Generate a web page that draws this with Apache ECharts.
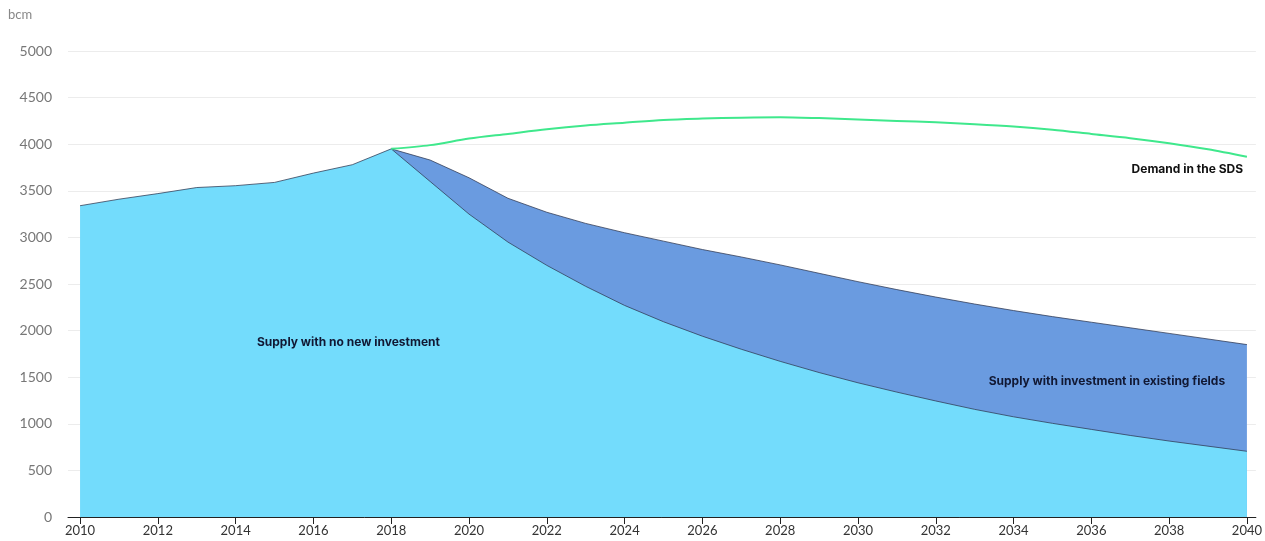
<!DOCTYPE html>
<html>
<head>
<meta charset="utf-8">
<script src="https://cdn.jsdelivr.net/npm/echarts@6/dist/echarts.min.js"></script>
<style>
html,body{margin:0;padding:0;background:#fff;}
#chart{width:1265px;height:541px;}
</style>
</head>
<body>
<div id="chart"></div>
<script>
// Data (bcm)
const years = [2010,2011,2012,2013,2014,2015,2016,2017,2018,2019,2020,2021,2022,2023,2024,2025,2026,2027,2028,2029,2030,2031,2032,2033,2034,2035,2036,2037,2038,2039,2040];
const supplyNoInvestment = [3340,3410,3470,3535,3555,3590,3690,3780,3950,3600,3250,2950,2700,2475,2270,2095,1940,1800,1670,1550,1440,1340,1245,1155,1075,1005,940,875,815,760,705];
const supplyExistingFields = [null,null,null,null,null,null,null,null,3950,3830,3640,3420,3270,3150,3050,2960,2870,2790,2705,2615,2525,2440,2360,2285,2215,2150,2090,2030,1970,1910,1850];
const demandSDS = [null,null,null,null,null,null,null,null,3950,3990,4060,4110,4160,4200,4230,4260,4275,4285,4290,4280,4265,4250,4235,4215,4190,4155,4110,4065,4010,3945,3865];
const xTickLabels = [2010,2012,2014,2016,2018,2020,2022,2024,2026,2028,2030,2032,2034,2036,2038,2040];

const pairs = arr => years.map((y,i) => [y, arr[i]]);
const FONT = 'Lato, "Noto Sans", sans-serif';
const LFONT = 'Inter, "Noto Sans", sans-serif';

const chart = echarts.init(document.getElementById('chart'));
chart.setOption({
  animation: false,
  backgroundColor: '#fff',
  grid: { left: 68, right: 7, top: 51, bottom: 24, containLabel: false },
  xAxis: {
    type: 'value',
    min: 2009.69,
    max: 2040.23,
    axisLine: { show: true, lineStyle: { color: '#222', width: 1 } },
    axisTick: { show: true, customValues: xTickLabels, length: 7, lineStyle: { color: '#222' } },
    axisLabel: { customValues: xTickLabels, color: '#333', fontSize: 13, fontFamily: FONT, margin: 7, formatter: v => String(v) },
    splitLine: { show: false }
  },
  yAxis: {
    type: 'value',
    min: 0, max: 5000, interval: 500,
    axisLine: { show: false },
    axisTick: { show: false },
    axisLabel: { color: '#777', fontSize: 14, fontFamily: FONT, margin: 16, formatter: v => String(v) },
    splitLine: { show: true, lineStyle: { color: '#ececec', width: 1 } }
  },
  series: [
    {
      name: 'Supply with investment in existing fields',
      type: 'line',
      data: pairs(supplyExistingFields),
      symbol: 'none',
      smooth: false,
      lineStyle: { color: 'rgba(45,55,80,0.75)', width: 1 },
      areaStyle: { color: '#6a9be0', opacity: 1, origin: 'start' },
      z: 2
    },
    {
      name: 'Supply with no new investment',
      type: 'line',
      data: pairs(supplyNoInvestment),
      symbol: 'none',
      smooth: false,
      lineStyle: { color: 'rgba(45,55,80,0.75)', width: 1 },
      areaStyle: { color: '#73dcfc', opacity: 1, origin: 'start' },
      z: 3
    },
    {
      name: 'Demand in the SDS',
      type: 'line',
      data: pairs(demandSDS),
      symbol: 'none',
      smooth: 0.3,
      lineStyle: { color: '#3fe88c', width: 2 },
      z: 4
    }
  ]
});

function addLabels() {
  const lbl = (text, coord, align, color) => {
    const p = chart.convertToPixel({ gridIndex: 0 }, coord);
    return { type: 'text', x: p[0], y: p[1], style: { text, fill: color, fontSize: 12, fontWeight: 'bold', fontFamily: LFONT, align, verticalAlign: 'middle' }, z: 10 };
  };
  chart.setOption({
    graphic: [
      { type: 'text', left: 8, top: 8, style: { text: 'bcm', fill: '#888', fontSize: 13, fontFamily: FONT } },
      lbl('Supply with no new investment', [2016.9, 1870], 'center', '#111833'),
      lbl('Supply with investment in existing fields', [2036.4, 1460], 'center', '#111833'),
      lbl('Demand in the SDS', [2039.9, 3730], 'right', '#111')
    ]
  });
}
addLabels();
</script>
</body>
</html>
